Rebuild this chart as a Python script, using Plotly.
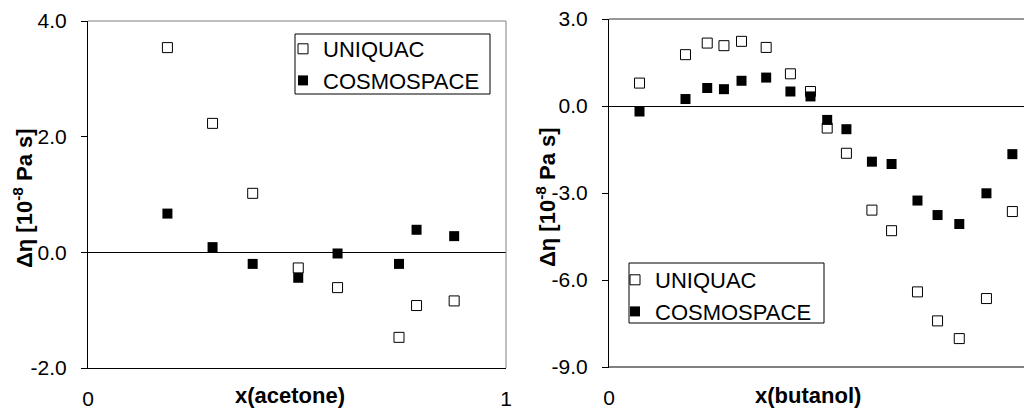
import plotly.graph_objects as go

# Left panel: acetone mixture
x_acetone = [0.19, 0.298, 0.394, 0.503, 0.597, 0.744, 0.786, 0.876]
uniquac_acetone = [3.54, 2.23, 1.02, -0.27, -0.61, -1.47, -0.92, -0.84]
cosmo_acetone = [0.67, 0.09, -0.20, -0.44, -0.02, -0.20, 0.39, 0.28]

# Right panel: butanol mixture
x_butanol = [0.073, 0.183, 0.235, 0.275, 0.317, 0.376, 0.434, 0.482, 0.522,
             0.568, 0.629, 0.676, 0.738, 0.786, 0.838, 0.903, 0.965]
uniquac_butanol = [0.79, 1.77, 2.17, 2.08, 2.23, 2.02, 1.11, 0.50, -0.76,
                   -1.63, -3.59, -4.30, -6.41, -7.41, -8.02, -6.64, -3.64]
cosmo_butanol = [-0.19, 0.24, 0.62, 0.58, 0.87, 0.98, 0.50, 0.33, -0.48,
                 -0.80, -1.92, -2.00, -3.26, -3.76, -4.07, -3.01, -1.66]

left_yticks = [-2, 0, 2, 4]
left_yticktext = ["-2.0", "0.0", "2.0", "4.0"]
right_yticks = [-9, -6, -3, 0, 3]
right_yticktext = ["-9.0", "-6.0", "-3.0", "0.0", "3.0"]
x_ticks = [0, 1]
x_ticktext = ["0", "1"]

FONT = "Liberation Sans, Arial, sans-serif"
W, H = 1024, 410

open_sq = dict(symbol="square-open", size=10, color="black", line=dict(width=1, color="black"))
fill_sq = dict(symbol="square", size=10, color="black", line=dict(width=0))

fig = go.Figure()
fig.add_trace(go.Scatter(x=x_acetone, y=uniquac_acetone, mode="markers", name="UNIQUAC",
                         marker=open_sq, xaxis="x", yaxis="y", legend="legend"))
fig.add_trace(go.Scatter(x=x_acetone, y=cosmo_acetone, mode="markers", name="COSMOSPACE",
                         marker=fill_sq, xaxis="x", yaxis="y", legend="legend"))
fig.add_trace(go.Scatter(x=x_butanol, y=uniquac_butanol, mode="markers", name="UNIQUAC",
                         marker=open_sq, xaxis="x2", yaxis="y2", legend="legend2"))
fig.add_trace(go.Scatter(x=x_butanol, y=cosmo_butanol, mode="markers", name="COSMOSPACE",
                         marker=fill_sq, xaxis="x2", yaxis="y2", legend="legend2"))

tickfont = dict(family=FONT, size=21, color="black")
titlefont = dict(family=FONT, size=22, color="black")

xcommon = dict(tickvals=x_ticks, ticktext=x_ticktext, ticks="", showgrid=False,
               zeroline=False, showline=True, linecolor="black", linewidth=1,
               tickfont=tickfont, ticklabelstandoff=12, automargin=False)
ycommon = dict(ticks="outside", ticklen=6, tickcolor="black", tickwidth=1,
               showgrid=False, zeroline=True, zerolinecolor="black", zerolinewidth=1,
               showline=True, linecolor="black", linewidth=1,
               tickfont=tickfont, ticklabelstandoff=10, automargin=False)
legcommon = dict(xanchor="left", yanchor="top", borderwidth=0, bgcolor="rgba(0,0,0,0)",
                 font=dict(family=FONT, size=22, color="black"),
                 itemwidth=30, tracegroupgap=0)


def px(x):
    return x / W


def py(y):
    return 1 - y / H


fig.update_layout(
    template="none",
    width=W, height=H,
    margin=dict(l=0, r=0, t=0, b=0, pad=0),
    paper_bgcolor="white", plot_bgcolor="white",
    font=dict(family=FONT, color="black"),
    showlegend=True,
    xaxis=dict(domain=[px(88), px(506)], range=[0, 1], anchor="y", **xcommon),
    yaxis=dict(domain=[py(368), py(21)], range=[-2, 4], anchor="x",
               tickvals=left_yticks, ticktext=left_yticktext, **ycommon),
    xaxis2=dict(domain=[px(609), 1.0], range=[0, (W - 609) / 418], anchor="y2", **xcommon),
    yaxis2=dict(domain=[py(367), py(19)], range=[-9, 3], anchor="x2",
                tickvals=right_yticks, ticktext=right_yticktext, **ycommon),
    legend=dict(x=px(283), y=py(28), **legcommon),
    legend2=dict(x=px(615), y=py(259), **legcommon),
    annotations=[
        dict(text="<b>x(acetone)</b>", x=px(290), y=py(395), xref="paper", yref="paper",
             showarrow=False, font=titlefont, xanchor="center", yanchor="middle"),
        dict(text="<b>x(butanol)</b>", x=px(808), y=py(395), xref="paper", yref="paper",
             showarrow=False, font=titlefont, xanchor="center", yanchor="middle"),
        dict(text="<b>Δη [10<sup>-8</sup> Pa s]</b>", x=px(23), y=py(198), xref="paper",
             yref="paper", showarrow=False, font=titlefont, textangle=-90,
             xanchor="center", yanchor="middle"),
        dict(text="<b>Δη [10<sup>-8</sup> Pa s]</b>", x=px(546), y=py(197), xref="paper",
             yref="paper", showarrow=False, font=titlefont, textangle=-90,
             xanchor="center", yanchor="middle"),
    ],
    shapes=[
        # grey frame on the top and right of the left panel
        dict(type="line", xref="x domain", yref="y domain", x0=0, x1=1, y0=1, y1=1,
             line=dict(color="#808080", width=1)),
        dict(type="line", xref="x domain", yref="y domain", x0=1, x1=1, y0=0, y1=1,
             line=dict(color="#808080", width=1)),
        # top border of the right panel
        dict(type="line", xref="x2 domain", yref="y2 domain", x0=0, x1=1, y0=1, y1=1,
             line=dict(color="#303030", width=1)),
        # grey bottom edge of the right panel
        dict(type="line", xref="x2 domain", yref="y2 domain", x0=0, x1=1, y0=0, y1=0,
             line=dict(color="#808080", width=2)),
        # legend boxes
        dict(type="rect", xref="paper", yref="paper", x0=px(295), x1=px(490),
             y0=py(94), y1=py(34), line=dict(color="black", width=1), fillcolor="white",
             layer="below"),
        dict(type="rect", xref="paper", yref="paper", x0=px(629), x1=px(824),
             y0=py(323), y1=py(263), line=dict(color="black", width=1), fillcolor="white",
             layer="below"),
    ],
)

fig.write_html("out.html")
